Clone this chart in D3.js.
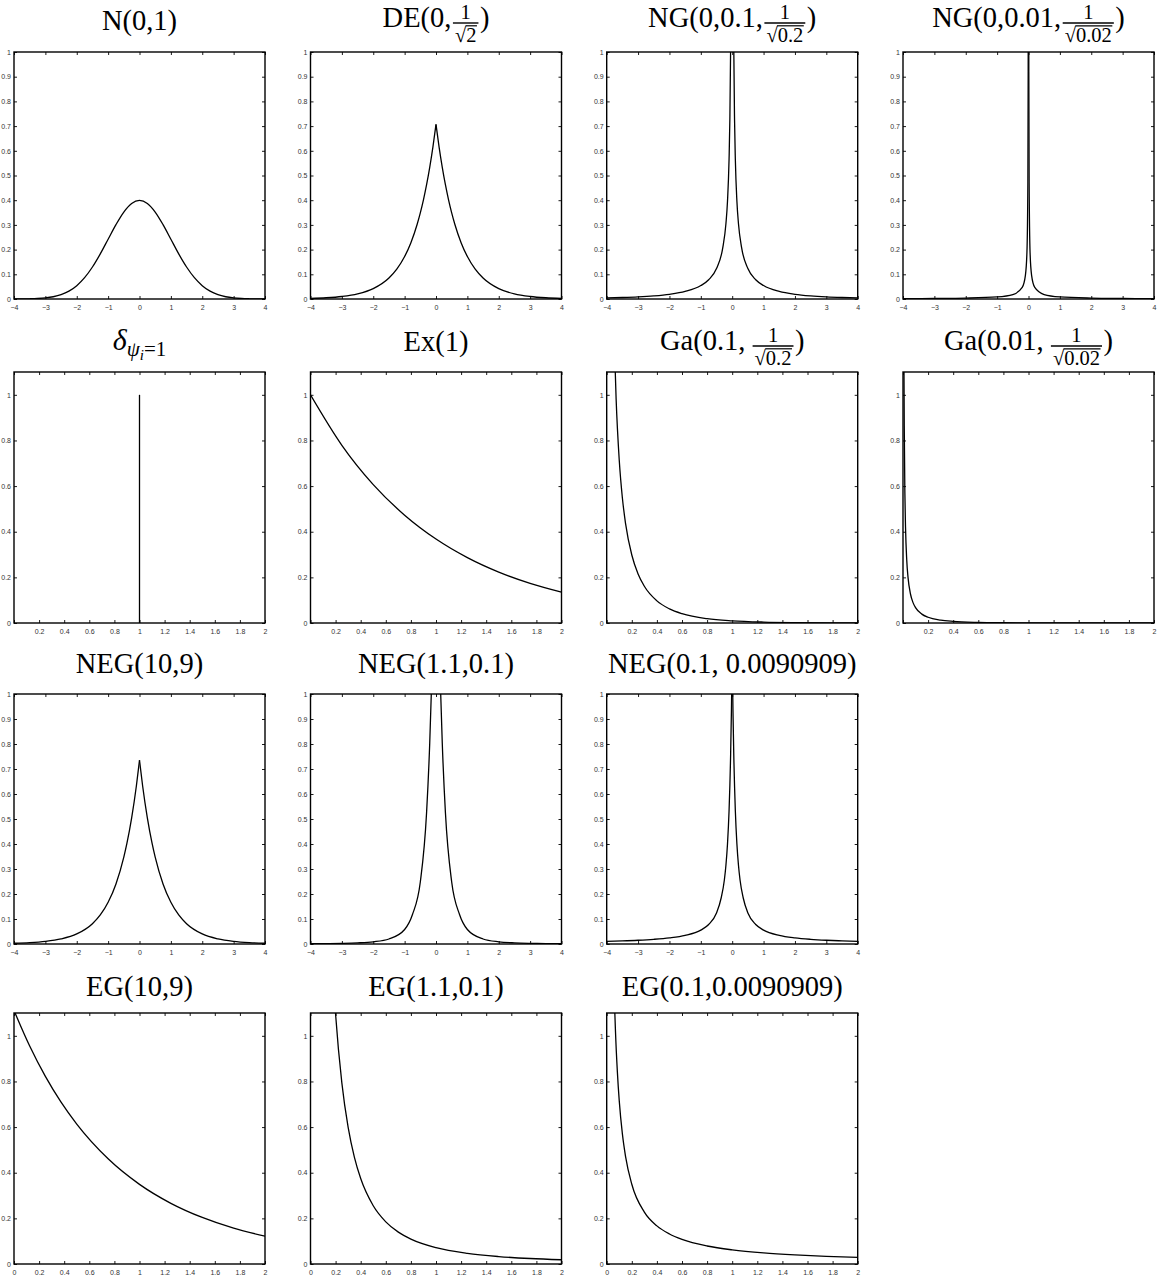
<!DOCTYPE html>
<html>
<head>
<meta charset="utf-8">
<script src="https://cdn.jsdelivr.net/npm/d3@7"></script>
<style>
  body { margin: 0; background: #fff; }
  svg { display: block; }
</style>
</head>
<body>
<svg id="fig" width="1158" height="1276"></svg>
<script>
// ---------- tick values ----------
const ticksSymX = [-4, -3, -2, -1, 0, 1, 2, 3, 4];
const ticksPosX = [0, 0.2, 0.4, 0.6, 0.8, 1, 1.2, 1.4, 1.6, 1.8, 2];
const ticksTenthY = [0, 0.1, 0.2, 0.3, 0.4, 0.5, 0.6, 0.7, 0.8, 0.9, 1];
const ticksFifthY = [0, 0.2, 0.4, 0.6, 0.8, 1];

// ---------- density curves ----------
// N(0,1)
const normX = [-4, -3.75, -3.5, -3.25, -3, -2.75, -2.5, -2.25, -2, -1.75, -1.5, -1.25, -1, -0.75, -0.5, -0.25, 0,
               0.25, 0.5, 0.75, 1, 1.25, 1.5, 1.75, 2, 2.25, 2.5, 2.75, 3, 3.25, 3.5, 3.75, 4];
const normY = [0.0001, 0.0004, 0.0009, 0.0020, 0.0044, 0.0091, 0.0175, 0.0317, 0.0540, 0.0863, 0.1295, 0.1826, 0.2420, 0.3011, 0.3521, 0.3867, 0.3989,
               0.3867, 0.3521, 0.3011, 0.2420, 0.1826, 0.1295, 0.0863, 0.0540, 0.0317, 0.0175, 0.0091, 0.0044, 0.0020, 0.0009, 0.0004, 0.0001];

// DE(0, 1/sqrt(2))
const deX = [-4, -3.5, -3, -2.5, -2, -1.5, -1.25, -1, -0.8, -0.6, -0.5, -0.4, -0.3, -0.2, -0.1, 0,
             0.1, 0.2, 0.3, 0.4, 0.5, 0.6, 0.8, 1, 1.25, 1.5, 2, 2.5, 3, 3.5, 4];
const deY = [0.0025, 0.0050, 0.0102, 0.0206, 0.0418, 0.0848, 0.1207, 0.1719, 0.2281, 0.3027, 0.3487, 0.4016, 0.4626, 0.5330, 0.6139, 0.7071,
             0.6139, 0.5330, 0.4626, 0.4016, 0.3487, 0.3027, 0.2281, 0.1719, 0.1207, 0.0848, 0.0418, 0.0206, 0.0102, 0.0050, 0.0025];

// NG(0, 0.1, 1/sqrt(0.2))
const ng1X = [-4, -3.5, -3, -2.5, -2, -1.5, -1, -0.75, -0.5, -0.3, -0.2, -0.15, -0.1, -0.075, -0.05, -0.04,
              0.04, 0.05, 0.075, 0.1, 0.15, 0.2, 0.3, 0.5, 0.75, 1, 1.5, 2, 2.5, 3, 3.5, 4];
const ng1Y = [0.0043, 0.0060, 0.0085, 0.0125, 0.0190, 0.0307, 0.0545, 0.0780, 0.1233, 0.2076, 0.3047, 0.3958, 0.5658, 0.7246, 1.021, 1.229,
              1.229, 1.021, 0.7246, 0.5658, 0.3958, 0.3047, 0.2076, 0.1233, 0.0780, 0.0545, 0.0307, 0.0190, 0.0125, 0.0085, 0.0060, 0.0043];

// NG(0, 0.01, 1/sqrt(0.02))
const ng2X = [-4, -3, -2, -1, -0.5, -0.2, -0.1, -0.05, -0.02, -0.01, -0.005,
              0.005, 0.01, 0.02, 0.05, 0.1, 0.2, 0.5, 1, 2, 3, 4];
const ng2Y = [0.0014, 0.0022, 0.0037, 0.0085, 0.0181, 0.0468, 0.0944, 0.1886, 0.470, 0.92, 1.80,
              1.80, 0.92, 0.470, 0.1886, 0.0944, 0.0468, 0.0181, 0.0085, 0.0037, 0.0022, 0.0014];

// point mass at psi_i = 1
const deltaX = [1, 1];
const deltaY = [0, 1];

// Ex(1)
const expX = [0, 0.25, 0.5, 0.75, 1, 1.25, 1.5, 1.75, 2];
const expY = [1, 0.7788, 0.6065, 0.4724, 0.3679, 0.2865, 0.2231, 0.1738, 0.1353];

// Ga(0.1, 1/sqrt(0.2))
const ga1X = [0.05, 0.06, 0.075, 0.1, 0.125, 0.15, 0.2, 0.25, 0.3, 0.4, 0.5, 0.6, 0.8, 1, 1.25, 1.5, 2];
const ga1Y = [1.507, 1.247, 0.983, 0.713, 0.548, 0.437, 0.298, 0.215, 0.161, 0.097, 0.062, 0.041, 0.019, 0.0095, 0.0041, 0.0019, 0.0004];

// Ga(0.01, 1/sqrt(0.02))
const ga2X = [0.004, 0.006, 0.008, 0.01, 0.015, 0.02, 0.03, 0.04, 0.06, 0.08, 0.1, 0.15, 0.2, 0.3, 0.4, 0.6, 0.8, 1, 1.5, 2];
const ga2Y = [2.176, 1.448, 1.082, 0.863, 0.569, 0.422, 0.274, 0.200, 0.126, 0.0893, 0.0674, 0.0389, 0.0251, 0.0125, 0.0070, 0.0026, 0.0011, 0.0005, 0.0001, 0.0000];

// NEG(10, 9)
const neg1X = [-4, -3.5, -3, -2.5, -2, -1.5, -1.25, -1, -0.75, -0.5, -0.4, -0.25, -0.1, 0,
               0.1, 0.25, 0.4, 0.5, 0.75, 1, 1.25, 1.5, 2, 2.5, 3, 3.5, 4];
const neg1Y = [0.0029, 0.0054, 0.0104, 0.0203, 0.0402, 0.0812, 0.1161, 0.1668, 0.2403, 0.3476, 0.4032, 0.5045, 0.632, 0.735,
               0.632, 0.5045, 0.4032, 0.3476, 0.2403, 0.1668, 0.1161, 0.0812, 0.0402, 0.0203, 0.0104, 0.0054, 0.0029];

// NEG(1.1, 0.1)
const neg2X = [-4, -3.5, -3, -2.5, -2, -1.5, -1, -0.75, -0.5, -0.3, -0.2, -0.15, -0.1, -0.05, 0,
               0.05, 0.1, 0.15, 0.2, 0.3, 0.5, 0.75, 1, 1.5, 2, 2.5, 3, 3.5, 4];
const neg2Y = [0.0011, 0.0017, 0.0026, 0.0045, 0.0088, 0.0200, 0.058, 0.118, 0.248, 0.526, 0.803, 1.00, 1.273, 1.63, 2.10,
               1.63, 1.273, 1.00, 0.803, 0.526, 0.248, 0.118, 0.058, 0.0200, 0.0088, 0.0045, 0.0026, 0.0017, 0.0011];

// NEG(0.1, 0.0090909)
const neg3X = [-4, -3.5, -3, -2.5, -2, -1.5, -1, -0.75, -0.5, -0.35, -0.25, -0.2, -0.15, -0.1, -0.05, -0.025, 0,
               0.025, 0.05, 0.1, 0.15, 0.2, 0.25, 0.35, 0.5, 0.75, 1, 1.5, 2, 2.5, 3, 3.5, 4];
const neg3Y = [0.0107, 0.0125, 0.0150, 0.0187, 0.0244, 0.0344, 0.0556, 0.0779, 0.1237, 0.185, 0.256, 0.315, 0.40, 0.533, 0.758, 0.93, 1.161,
               0.93, 0.758, 0.533, 0.40, 0.315, 0.256, 0.185, 0.1237, 0.0779, 0.0556, 0.0344, 0.0244, 0.0187, 0.0150, 0.0125, 0.0107];

// EG(10, 9)
const eg1X = [0, 0.125, 0.25, 0.375, 0.5, 0.75, 1, 1.25, 1.5, 1.75, 2];
const eg1Y = [1.111, 0.955, 0.822, 0.709, 0.613, 0.461, 0.349, 0.266, 0.204, 0.157, 0.122];

// EG(1.1, 0.1)
const eg2X = [0.15, 0.17, 0.2, 0.25, 0.3, 0.35, 0.4, 0.5, 0.6, 0.7, 0.8, 1, 1.25, 1.5, 1.75, 2];
const eg2Y = [1.606, 1.366, 1.0945, 0.7924, 0.5985, 0.4673, 0.3744, 0.2553, 0.1848, 0.1396, 0.1090, 0.0715, 0.0465, 0.0326, 0.0240, 0.0185];

// EG(0.1, 0.0090909)
const eg3X = [0.03, 0.04, 0.05, 0.07, 0.085, 0.1, 0.125, 0.15, 0.2, 0.3, 0.4, 0.5, 0.6, 0.8, 1, 1.25, 1.5, 1.75, 2];
const eg3Y = [2.211, 1.72, 1.404, 1.019, 0.842, 0.7149, 0.570, 0.4721, 0.3496, 0.2274, 0.1671, 0.1314, 0.1078, 0.0789, 0.0619, 0.0485, 0.0398, 0.0336, 0.0290];

// ---------- panel descriptions ----------
const SYM = { xd: [-4, 4], xt: ticksSymX, xl: ticksSymX };
const POS0 = { xd: [0, 2], xt: ticksPosX, xl: ticksPosX.slice(1) };
const POS = { xd: [0, 2], xt: ticksPosX, xl: ticksPosX };
const Y1 = { yd: [0, 1], yt: ticksTenthY };
const Y11 = { yd: [0, 1.1], yt: ticksFifthY };

const panels = [
  { r: 0, c: 0, ax: SYM, ay: Y1, title: [{ t: 'N(0,1)' }], base: 30, cusp: false, xs: normX, ys: normY },
  { r: 0, c: 1, ax: SYM, ay: Y1, title: [{ t: 'DE(0,' }, { frac: ['1', '2'] }, { t: ')' }], base: 27, cusp: true, xs: deX, ys: deY },
  { r: 0, c: 2, ax: SYM, ay: Y1, title: [{ t: 'NG(0,0.1,' }, { frac: ['1', '0.2'] }, { t: ')' }], base: 27, cusp: true, xs: ng1X, ys: ng1Y },
  { r: 0, c: 3, ax: SYM, ay: Y1, title: [{ t: 'NG(0,0.01,' }, { frac: ['1', '0.02'] }, { t: ')' }], base: 27, cusp: true, xs: ng2X, ys: ng2Y },
  { r: 1, c: 0, ax: POS0, ay: Y11, title: [{ t: 'δ', it: true, fs: 30 }, { t: 'ψ', it: true, fs: 21, dy: 6 }, { t: 'i', it: true, fs: 15, dy: 10 }, { t: '=1', fs: 21, dy: 6 }], base: 350, linear: true, xs: deltaX, ys: deltaY },
  { r: 1, c: 1, ax: POS0, ay: Y11, title: [{ t: 'Ex(1)' }], base: 351, xs: expX, ys: expY },
  { r: 1, c: 2, ax: POS0, ay: Y11, title: [{ t: 'Ga(0.1,\u2009' }, { frac: ['1', '0.2'] }, { t: ')' }], base: 350, xs: ga1X, ys: ga1Y },
  { r: 1, c: 3, ax: POS0, ay: Y11, title: [{ t: 'Ga(0.01,\u2009' }, { frac: ['1', '0.02'] }, { t: ')' }], base: 350, xs: ga2X, ys: ga2Y },
  { r: 2, c: 0, ax: SYM, ay: Y1, title: [{ t: 'NEG(10,9)' }], base: 673, cusp: true, xs: neg1X, ys: neg1Y },
  { r: 2, c: 1, ax: SYM, ay: Y1, title: [{ t: 'NEG(1.1,0.1)' }], base: 673, cusp: true, xs: neg2X, ys: neg2Y },
  { r: 2, c: 2, ax: SYM, ay: Y1, title: [{ t: 'NEG(0.1, 0.0090909)' }], base: 673, cusp: true, xs: neg3X, ys: neg3Y },
  { r: 3, c: 0, ax: POS, ay: Y11, title: [{ t: 'EG(10,9)' }], base: 996, xs: eg1X, ys: eg1Y },
  { r: 3, c: 1, ax: POS, ay: Y11, title: [{ t: 'EG(1.1,0.1)' }], base: 996, xs: eg2X, ys: eg2Y },
  { r: 3, c: 2, ax: POS, ay: Y11, title: [{ t: 'EG(0.1,0.0090909)' }], base: 996, xs: eg3X, ys: eg3Y }
];

// ---------- layout ----------
const colX = [14, 310.5, 606.7, 903];
const rowY = [52, 372, 694, 1013];
const rowH = [247, 251, 250, 251];
const plotW = 251;
const serif = "'Liberation Serif', 'Times New Roman', serif";
const sans = "'Liberation Sans', Arial, Helvetica, sans-serif";
const titleSize = 28.5;
const fracSize = 20.5;
const tickLen = 3;

const svg = d3.select('#fig');

const fmtTick = d => (d < 0 ? '\u2212' + Math.abs(d) : String(d));

function textWidth(parent, s, size) {
  const t = parent.append('text').attr('font-size', size).text(s);
  const w = t.node().getComputedTextLength();
  t.remove();
  return w;
}

function drawTitle(parent, cx, baseline, pieces) {
  const g = parent.append('g').attr('font-family', serif).attr('fill', '#000');
  let x = 0;
  pieces.forEach(p => {
    if (p.frac) {
      // stacked fraction: numerator over a square root
      const bar = baseline - 4;
      const rw = textWidth(g, '\u221A', fracSize);
      const nw = textWidth(g, p.frac[0], fracSize);
      const dw = textWidth(g, '\u221A' + p.frac[1], fracSize);
      const pad = 2;
      const fw = Math.max(nw, dw) + 2 * pad;
      const x0 = x + 1.5;
      g.append('line').attr('x1', x0).attr('x2', x0 + fw).attr('y1', bar).attr('y2', bar)
        .attr('stroke', '#000').attr('stroke-width', 1.4);
      g.append('text').attr('font-size', fracSize)
        .attr('x', x0 + fw / 2 - nw / 2).attr('y', bar - 4.5).text(p.frac[0]);
      const dx = x0 + fw / 2 - dw / 2;
      g.append('text').attr('font-size', fracSize)
        .attr('x', dx).attr('y', bar + 18.5).text('\u221A' + p.frac[1]);
      g.append('line').attr('x1', dx + rw - 0.6).attr('x2', dx + dw + 0.5)
        .attr('y1', bar + 2.8).attr('y2', bar + 2.8)
        .attr('stroke', '#000').attr('stroke-width', 1.2);
      x = x0 + fw + 1.5;
    } else {
      const t = g.append('text')
        .attr('x', x).attr('y', baseline + (p.dy || 0))
        .attr('font-size', p.fs || titleSize)
        .attr('font-style', p.it ? 'italic' : 'normal')
        .text(p.t);
      x += t.node().getComputedTextLength();
    }
  });
  g.attr('transform', `translate(${cx - x / 2},0)`);
}

panels.forEach((p, i) => {
  const left = colX[p.c];
  const top = rowY[p.r];
  const h = rowH[p.r];
  const x = d3.scaleLinear().domain(p.ax.xd).range([left, left + plotW]);
  const y = d3.scaleLinear().domain(p.ay.yd).range([top + h, top]);

  const g = svg.append('g');

  // clip region for the curve
  const clipId = 'clip' + i;
  svg.append('clipPath').attr('id', clipId)
    .append('rect').attr('x', left).attr('y', top).attr('width', plotW).attr('height', h);

  // curve(s): peaked densities are drawn as two branches meeting at 0
  const pts = p.xs.map((v, k) => [v, p.ys[k]]);
  const segments = p.cusp
    ? [pts.filter(d => d[0] <= 0), pts.filter(d => d[0] >= 0)]
    : [pts];
  const line = d3.line()
    .x(d => x(d[0])).y(d => y(d[1]))
    .curve(p.linear ? d3.curveLinear : d3.curveMonotoneX);
  segments.forEach(seg => {
    if (seg.length < 2) return;
    g.append('path').attr('d', line(seg))
      .attr('clip-path', `url(#${clipId})`)
      .attr('fill', 'none').attr('stroke', '#000').attr('stroke-width', 1.3)
      .attr('stroke-linejoin', 'round');
  });

  // axes with inward ticks on all four sides
  const labelSet = new Set(p.ax.xl);
  const axB = d3.axisBottom(x).tickValues(p.ax.xt).tickSize(-tickLen).tickPadding(6)
    .tickFormat(d => (labelSet.has(d) ? fmtTick(d) : ''));
  const axT = d3.axisTop(x).tickValues(p.ax.xt).tickSize(-tickLen).tickFormat('');
  const axL = d3.axisLeft(y).tickValues(p.ay.yt).tickSize(-tickLen).tickPadding(3).tickFormat(fmtTick);
  const axR = d3.axisRight(y).tickValues(p.ay.yt).tickSize(-tickLen).tickFormat('');

  const gb = g.append('g').attr('transform', `translate(0,${top + h})`).call(axB);
  const gt = g.append('g').attr('transform', `translate(0,${top})`).call(axT);
  const gl = g.append('g').attr('transform', `translate(${left},0)`).call(axL);
  const gr = g.append('g').attr('transform', `translate(${left + plotW},0)`).call(axR);
  [gb, gt, gl, gr].forEach(a => {
    a.select('.domain').remove();
    a.selectAll('.tick line').attr('stroke', '#000').attr('stroke-width', 0.9);
    a.selectAll('text').attr('font-family', sans).attr('font-size', 7).attr('fill', '#333');
  });

  // frame
  g.append('rect').attr('x', left).attr('y', top).attr('width', plotW).attr('height', h)
    .attr('fill', 'none').attr('stroke', '#000').attr('stroke-width', 1.4);

  drawTitle(svg, left + plotW / 2, p.base, p.title);
});
</script>
</body>
</html>
